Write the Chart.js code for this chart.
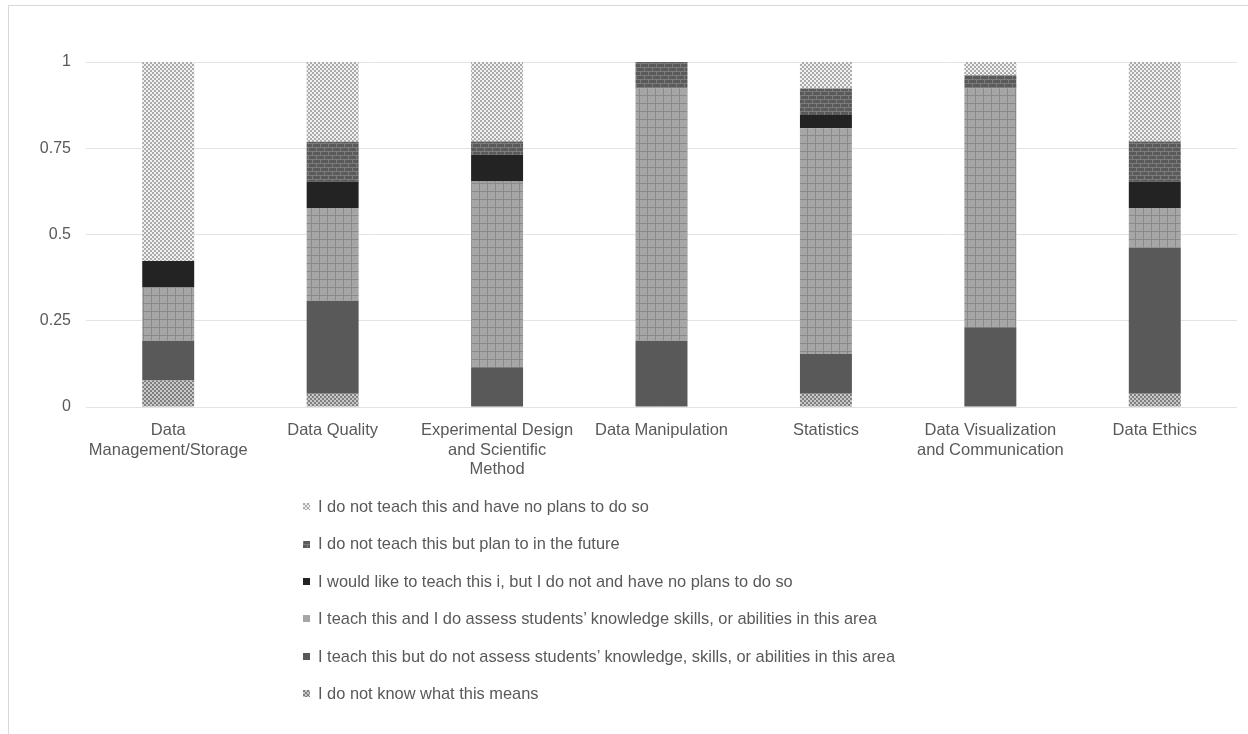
<!DOCTYPE html>
<html>
<head>
<meta charset="utf-8">
<script src="https://cdn.jsdelivr.net/npm/chart.js@4/dist/chart.umd.min.js"></script>
<style>
  html, body { margin: 0; padding: 0; background: #fff; overflow: hidden; }
  body { width: 1248px; height: 734px; position: relative; font-family: 'Liberation Sans', Arial, sans-serif; }
  #frame { position: absolute; left: 8px; top: 5px; width: 1300px; height: 800px; border: 1px solid #d9d9d9; }
  #wrap { position: absolute; left: 0; top: 0; width: 1248px; height: 734px; }
  #legend { position: absolute; left: 303px; top: 488px; color: #595959; font-size: 16.4px; }
  #legend .item { height: 37.4px; line-height: 37.4px; white-space: nowrap; }
  #legend canvas { width: 7px; height: 7px; margin-right: 8px; vertical-align: middle; position: relative; top: -1px; }
</style>
</head>
<body>
<div id="frame"></div>
<div id="wrap"><canvas id="chart" width="1248" height="734"></canvas></div>
<div id="legend"></div>
<script>
// ----------------------------------------------------------------
//  Veri (26 yanıt, oranlar)
// ----------------------------------------------------------------
const categories = [
  ['Data', 'Management/Storage'],
  'Data Quality',
  ['Experimental Design', 'and Scientific', 'Method'],
  'Data Manipulation',
  'Statistics',
  ['Data Visualization', 'and Communication'],
  'Data Ethics'
];

const yTickLabels = ['0', '0.25', '0.5', '0.75', '1'];

// alttan üste yığın sırası
const dontKnow      = [0.0769, 0.0385, 0,      0,      0.0385, 0,      0.0385];
const teachNoAssess = [0.1154, 0.2692, 0.1154, 0.1923, 0.1154, 0.2308, 0.4231];
const teachAssess   = [0.1538, 0.2692, 0.5385, 0.7308, 0.6538, 0.6923, 0.1154];
const wouldLike     = [0.0769, 0.0769, 0.0769, 0,      0.0385, 0,      0.0769];
const planFuture    = [0,      0.1154, 0.0385, 0.0769, 0.0769, 0.0385, 0.1154];
const noPlans       = [0.5769, 0.2308, 0.2308, 0,      0.0769, 0.0385, 0.2308];

const seriesNames = [
  'I do not know what this means',
  'I teach this but do not assess students\u2019 knowledge, skills, or abilities in this area',
  'I teach this and I do assess students\u2019 knowledge skills, or abilities in this area',
  'I would like to teach this i, but I do not and have no plans to do so',
  'I do not teach this but plan to in the future',
  'I do not teach this and have no plans to do so'
];

// ----------------------------------------------------------------
//  Desenler (Excel tarzı dolgu)
// ----------------------------------------------------------------
const makeTile = (w, h, draw) => {
  const c = document.createElement('canvas');
  c.width = w; c.height = h;
  draw(c.getContext('2d'));
  return c;
};

const checker = (light, dark) => makeTile(4, 4, g => {
  g.fillStyle = light; g.fillRect(0, 0, 4, 4);
  g.fillStyle = dark; g.fillRect(0, 0, 2, 2); g.fillRect(2, 2, 2, 2);
});

const brick = makeTile(8, 8, g => {
  g.fillStyle = '#5a5a5a'; g.fillRect(0, 0, 8, 8);
  g.fillStyle = '#7c7c7c';
  g.fillRect(0, 3, 8, 1); g.fillRect(0, 7, 8, 1);
  g.fillRect(0, 0, 1, 3); g.fillRect(4, 4, 1, 3);
});

const grid = makeTile(8, 8, g => {
  g.fillStyle = '#a6a6a6'; g.fillRect(0, 0, 8, 8);
  g.fillStyle = '#8a8a8a';
  g.fillRect(0, 7, 8, 1); g.fillRect(7, 0, 1, 8);
});

const solid = col => makeTile(4, 4, g => { g.fillStyle = col; g.fillRect(0, 0, 4, 4); });

const tiles = [
  checker('#c9c9c9', '#7f7f7f'),
  solid('#595959'),
  grid,
  solid('#232323'),
  brick,
  checker('#f0f0f0', '#ababab')
];

const ctx = document.getElementById('chart').getContext('2d');
const fills = tiles.map(t => ctx.createPattern(t, 'repeat'));
const seriesData = [dontKnow, teachNoAssess, teachAssess, wouldLike, planFuture, noPlans];

const chart = new Chart(ctx, {
  type: 'bar',
  data: {
    labels: categories,
    datasets: seriesData.map((d, i) => ({
      label: seriesNames[i],
      data: d,
      backgroundColor: fills[i],
      borderWidth: 0,
      categoryPercentage: 1,
      barPercentage: 0.316
    }))
  },
  options: {
    responsive: false,
    animation: false,
    devicePixelRatio: 1,
    layout: { padding: { left: 0, right: 11, top: 62, bottom: 247 } },
    plugins: { legend: { display: false }, tooltip: { enabled: false } },
    scales: {
      x: {
        stacked: true,
        grid: { display: false },
        border: { display: false },
        ticks: {
          color: '#595959',
          font: { family: "'Liberation Sans', Arial", size: 16.5, lineHeight: 1.17 },
          padding: 6,
          maxRotation: 0,
          autoSkip: false
        },
        afterFit: s => { s.height = 80; }
      },
      y: {
        stacked: true,
        min: 0,
        max: 1,
        grid: { color: '#e3e3e3', drawTicks: false },
        border: { display: false },
        ticks: {
          stepSize: 0.25,
          color: '#595959',
          padding: 15,
          font: { family: "'Liberation Sans', Arial", size: 16 },
          callback: (v, i) => yTickLabels[i]
        },
        afterFit: s => { s.width = 86; }
      }
    }
  }
});

// ----------------------------------------------------------------
//  Dikey lejant (üst yığından alta)
// ----------------------------------------------------------------
const legendEl = document.getElementById('legend');
chart.data.datasets.slice().reverse().forEach((ds, k) => {
  const idx = chart.data.datasets.length - 1 - k;
  const row = document.createElement('div');
  row.className = 'item';
  const sw = document.createElement('canvas');
  sw.width = 7; sw.height = 7;
  const sg = sw.getContext('2d');
  sg.fillStyle = sg.createPattern(tiles[idx], 'repeat');
  sg.fillRect(0, 0, 7, 7);
  row.appendChild(sw);
  row.appendChild(document.createTextNode(ds.label));
  legendEl.appendChild(row);
});
</script>
</body>
</html>
